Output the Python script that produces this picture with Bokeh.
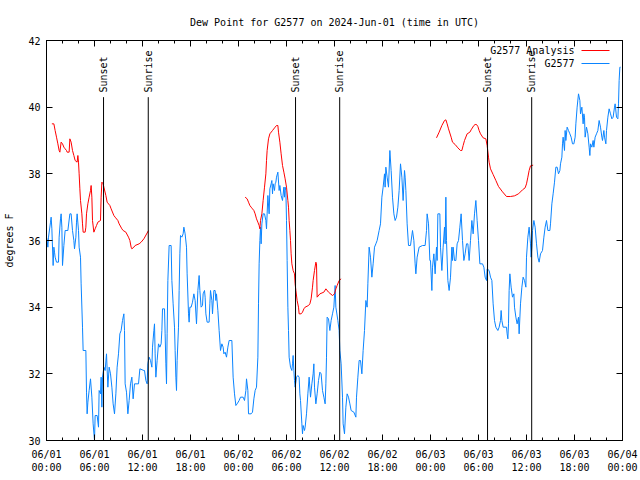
import math
from bokeh.plotting import figure
from bokeh.models import LinearAxis, FixedTicker, Label, Arrow, ColumnDataSource, Range1d
from bokeh.core.properties import value
from bokeh.embed import file_html
from bokeh.resources import INLINE

FONT = "DejaVu Sans Mono"

chart_title = "Dew Point for G2577 on 2024-Jun-01 (time in UTC)"
y_label = "degrees F"
x_tick_hours = [0, 6, 12, 18, 24, 30, 36, 42, 48, 54, 60, 66, 72]
x_tick_labels = ["06/01\n00:00", "06/01\n06:00", "06/01\n12:00", "06/01\n18:00",
                 "06/02\n00:00", "06/02\n06:00", "06/02\n12:00", "06/02\n18:00",
                 "06/03\n00:00", "06/03\n06:00", "06/03\n12:00", "06/03\n18:00",
                 "06/04\n00:00"]
x_minor_hours = [h for h in range(0, 73, 2)]
y_ticks = [30, 32, 34, 36, 38, 40, 42]

sun_hours = [7.13, 12.72, 31.13, 36.65, 55.13, 60.65]
sun_labels = ["Sunset", "Sunrise", "Sunset", "Sunrise", "Sunset", "Sunrise"]

# observed series G2577 (hours since 2024-06-01 00:00 UTC, dew point F)
obs_hours = [
    0.0, 0.08, 0.17, 0.25, 0.5, 0.58, 0.67, 0.83, 0.92, 1.0, 1.08, 1.25, 1.5, 1.58, 1.75, 1.83, 1.92,
    2.0, 2.17, 2.33, 2.67, 2.92, 3.08, 3.25, 3.42, 3.5, 3.67, 3.75, 3.83, 4.0, 4.08, 4.25, 4.33, 4.5,
    4.58, 4.92, 5.0, 5.08, 5.17, 5.33, 5.5, 5.67, 5.83, 6.0, 6.08, 6.33, 6.5, 6.58, 6.75, 6.83, 6.92,
    7.0, 7.17, 7.33, 7.5, 7.67, 7.83, 8.0, 8.17, 8.33, 8.5, 8.67, 8.83, 9.0, 9.17, 9.33, 9.5, 9.67,
    9.75, 9.83, 10.0, 10.17, 10.33, 10.5, 10.67, 10.83, 11.0, 11.5, 11.67, 12.17, 12.25, 12.42, 12.58,
    12.67, 12.83, 13.0, 13.17, 13.25, 13.42, 13.5, 13.58, 13.67, 13.83, 14.0, 14.17, 14.33, 14.42,
    14.5, 14.75, 14.83, 14.92, 15.0, 15.08, 15.17, 15.33, 15.58, 15.67, 15.83, 16.0, 16.08, 16.17,
    16.25, 16.33, 16.5, 16.58, 16.67, 16.75, 16.92, 17.08, 17.17, 17.33, 17.5, 17.58, 17.75, 17.83,
    17.92, 18.08, 18.25, 18.42, 18.58, 18.75, 18.92, 19.08, 19.17, 19.33, 19.5, 19.58, 19.75, 19.83,
    19.92, 20.08, 20.33, 20.42, 20.5, 20.67, 20.75, 20.92, 21.08, 21.17, 21.25, 21.42, 21.58, 21.75,
    21.92, 22.08, 22.17, 22.33, 22.5, 22.67, 22.83, 23.17, 23.33, 23.5, 23.67, 23.83, 24.08, 24.25,
    24.58, 24.75, 24.92, 25.0, 25.17, 25.25, 25.58, 25.75, 25.92, 26.08, 26.25, 26.42, 26.5, 26.58,
    26.67, 26.75, 26.83, 26.92, 27.08, 27.25, 27.42, 27.5, 27.58, 27.67, 27.83, 27.92, 28.08, 28.17,
    28.25, 28.33, 28.5, 28.58, 28.67, 28.75, 28.92, 29.08, 29.17, 29.33, 29.5, 29.67, 29.75, 29.83,
    29.92, 30.0, 30.08, 30.17, 30.25, 30.33, 30.5, 30.67, 30.75, 30.83, 30.92, 31.0, 31.08, 31.25,
    31.42, 31.58, 31.67, 31.75, 31.92, 32.0, 32.08, 32.25, 32.33, 32.5, 32.67, 32.83, 33.0, 33.17,
    33.33, 33.42, 33.5, 33.67, 33.83, 34.0, 34.17, 34.33, 34.5, 34.67, 34.83, 34.92, 35.0, 35.08,
    35.25, 35.42, 35.58, 35.75, 35.92, 36.08, 36.17, 36.42, 36.58, 36.67, 36.83, 37.0, 37.08, 37.25,
    37.42, 37.58, 37.75, 37.92, 38.08, 38.42, 38.67, 38.75, 38.92, 39.08, 39.25, 39.42, 39.58, 39.75,
    39.92, 40.08, 40.17, 40.33, 40.5, 40.67, 40.83, 41.0, 41.17, 41.33, 41.58, 41.75, 41.92, 42.08,
    42.25, 42.33, 42.42, 42.58, 42.75, 42.92, 43.08, 43.25, 43.42, 43.58, 43.75, 43.92, 44.08, 44.25,
    44.42, 44.58, 44.75, 44.83, 44.92, 45.08, 45.25, 45.5, 45.75, 45.92, 46.08, 46.17, 46.33, 46.58,
    47.0, 47.33, 47.5, 47.58, 47.75, 47.92, 48.0, 48.17, 48.25, 48.42, 48.58, 48.75, 48.83, 48.92,
    49.17, 49.25, 49.42, 49.58, 49.75, 49.83, 49.92, 50.0, 50.17, 50.33, 50.5, 50.67, 50.75, 50.83,
    51.0, 51.17, 51.33, 51.5, 51.67, 51.83, 52.0, 52.17, 52.33, 52.5, 52.67, 52.83, 53.0, 53.17,
    53.33, 53.5, 53.67, 53.83, 54.0, 54.17, 54.5, 54.67, 54.83, 55.0, 55.08, 55.33, 55.5, 55.67,
    55.83, 56.0, 56.17, 56.42, 56.58, 56.75, 56.83, 56.92, 57.08, 57.5, 57.58, 57.67, 57.75, 57.83,
    57.92, 58.08, 58.25, 58.42, 58.5, 58.67, 58.83, 59.0, 59.08, 59.25, 59.42, 59.58, 59.75, 59.92,
    60.0, 60.17, 60.33, 60.5, 60.58, 60.67, 60.75, 60.92, 61.08, 61.25, 61.42, 61.58, 61.75, 62.0,
    62.17, 62.33, 62.5, 62.67, 62.92, 63.0, 63.17, 63.33, 63.5, 63.67, 63.83, 64.0, 64.17, 64.25,
    64.42, 64.5, 64.58, 64.75, 64.83, 64.92, 65.08, 65.25, 65.42, 65.58, 65.75, 65.92, 66.08, 66.17,
    66.33, 66.5, 66.67, 66.75, 66.92, 67.08, 67.17, 67.25, 67.33, 67.5, 67.67, 67.83, 67.92, 68.0,
    68.17, 68.33, 68.42, 68.58, 68.75, 68.92, 69.08, 69.25, 69.42, 69.5, 69.67, 69.75, 69.92, 70.0,
    70.17, 70.33, 70.5, 70.67, 70.83, 71.0, 71.08, 71.25, 71.42, 71.5, 71.58, 71.67, 71.75,
]
obs_dewpt = [
    36.1, 36.0, 35.8, 36.1, 36.55, 36.7, 36.35, 35.25, 35.8, 35.65, 35.5, 35.35, 35.35, 36.1, 36.65, 36.8, 36.4,
    35.25, 35.85, 36.3, 36.3, 36.8, 36.8, 36.3, 36.0, 35.75, 36.1, 36.55, 36.8, 36.3, 35.8, 35.5, 34.7, 33.4,
    32.7, 32.7, 31.45, 30.8, 31.15, 31.5, 31.85, 31.3, 30.5, 30.0, 30.75, 30.75, 30.4, 31.5, 31.4, 31.9, 31.0,
    31.9, 32.2, 32.1, 32.6, 31.6, 32.2, 32.0, 31.6, 31.1, 30.8, 31.4, 32.2, 32.6, 33.2, 33.3, 33.6, 33.8,
    33.3, 31.7, 31.45, 30.8, 31.2, 31.7, 31.9, 31.25, 31.7, 31.7, 32.15, 32.1, 32.1, 31.8, 31.7,
    32.3, 32.5, 32.4, 32.2, 32.8, 33.3, 33.5, 32.6, 31.9, 32.4, 32.9, 32.8, 32.9, 33.3,
    33.95, 33.95, 33.2, 32.3, 31.7, 33.2, 34.8, 35.85, 35.85, 34.8, 34.1, 33.4, 32.7, 31.9,
    31.5, 32.4, 33.4, 34.5, 35.6, 36.15, 36.1, 36.2, 36.4, 36.2, 35.8, 35.0, 33.8, 33.55,
    34.0, 34.0, 34.15, 34.4, 34.2, 33.5, 34.5, 34.95, 34.5, 34.0, 34.05, 34.4, 34.5, 34.3,
    33.8, 33.55, 33.55, 34.1, 34.5, 34.2, 33.8, 34.5, 34.5, 34.2, 34.4, 33.9, 33.3, 32.7,
    32.9, 32.8, 32.6, 32.65, 32.5, 32.8, 33.0, 33.0, 31.9, 31.4, 31.05, 31.1, 31.2, 31.3,
    31.3, 31.2, 31.5, 31.85, 31.5, 30.8, 30.8, 30.85, 31.25, 31.5, 31.6, 32.5, 34.1, 35.3,
    36.0, 36.4, 35.9, 36.5, 36.8, 36.8, 36.6, 36.35, 36.8, 37.35, 36.8, 37.55, 37.7, 37.8,
    37.4, 37.7, 37.5, 37.7, 37.75, 37.9, 38.05, 37.5, 37.65, 37.35, 37.2, 37.6, 37.3, 37.6,
    37.5, 36.6, 35.4, 34.0, 33.3, 32.5, 32.2, 32.1, 32.3, 32.55, 32.1, 31.8, 31.6, 31.9,
    31.95, 31.9, 31.4, 31.2, 30.5, 30.2, 30.45, 30.3, 30.4, 30.8, 31.4, 31.9, 31.3, 31.7,
    32.0, 32.3, 31.6, 31.1, 31.4, 31.8, 32.05, 32.0, 31.5, 31.3, 31.1, 31.7, 32.5, 33.7,
    33.65, 33.3, 33.6, 33.8, 34.0, 34.65, 34.0, 33.6, 33.3, 32.7, 32.3, 31.3, 30.5, 30.2,
    31.0, 31.4, 31.3, 31.1, 30.9, 30.85, 30.7, 31.3, 31.9, 32.4, 32.4, 32.0, 32.7, 33.3,
    34.2, 34.0, 34.7, 35.8, 35.5, 34.9, 35.3, 35.8, 35.9, 36.0, 36.3, 36.5, 37.3, 37.6,
    38.0, 37.6, 38.2, 37.9, 37.6, 38.7, 38.1, 37.3, 36.8, 36.6, 36.7, 37.0, 37.5, 38.3,
    37.9, 37.2, 38.1, 37.9, 37.5, 36.5, 35.85, 35.85, 36.3, 36.0, 35.3, 35.0, 35.5, 35.8,
    35.85, 35.85, 36.3, 36.8, 36.5, 35.4, 35.4, 34.5, 35.2, 35.6, 35.0, 35.8, 35.4, 36.8,
    36.8, 35.8, 35.1, 35.8, 36.4, 35.9, 37.3, 36.0, 34.8, 34.5, 34.9, 35.8, 35.4, 35.8,
    35.4, 35.4, 35.9, 36.0, 36.4, 36.8, 36.0, 35.4, 35.6, 35.9, 35.9, 35.4, 36.0, 36.6,
    36.2, 36.8, 37.2, 36.6, 36.0, 35.3, 35.3, 35.2, 34.9, 34.8, 35.15, 35.1, 34.9, 34.8,
    34.1, 33.6, 33.4, 33.3, 33.4, 33.6, 33.9, 33.6, 33.4, 33.4, 33.2, 33.05, 33.5, 34.5,
    35.0, 34.6, 34.3, 34.4, 34.0, 33.7, 33.5, 33.7, 33.2, 34.1, 34.6, 34.9, 34.8, 34.6,
    35.5, 36.1, 36.4, 35.9, 35.5, 35.8, 36.3, 36.6, 36.4, 35.9, 35.5, 35.35, 35.6, 35.7,
    36.1, 36.4, 36.6, 36.3, 36.3, 36.5, 37.1, 37.4, 37.75, 38.2, 38.2, 38.0, 38.1, 38.3,
    38.5, 38.9, 39.1, 38.7, 39.3, 39.0, 39.4, 39.3, 39.2, 39.1, 38.9, 38.9, 39.1, 39.5,
    40.0, 40.4, 40.2, 39.8, 40.0, 39.5, 39.8, 39.7, 39.1, 39.4, 39.2, 38.8, 38.55, 38.9,
    38.8, 39.0, 38.8, 39.1, 39.2, 39.3, 39.6, 39.4, 39.1, 39.0, 39.3, 39.1, 38.9, 39.3,
    39.7, 39.95, 39.8, 39.65, 39.7, 40.0, 40.1, 39.7, 39.65, 40.1, 40.8, 41.2, 41.2,
]

# analysis series "G2577 Analysis" (three separate runs)
ana1_hours = [0.67, 0.92, 1.08, 1.25, 1.42, 1.58, 1.67, 1.83, 2.0, 2.17, 2.33, 2.5, 2.58, 2.83, 2.92,
              3.08, 3.25, 3.42, 3.58, 3.83, 3.92, 4.0, 4.08, 4.17, 4.25, 4.42, 4.5, 4.58, 4.83, 4.92,
              5.0, 5.17, 5.33, 5.5, 5.58, 5.67, 5.75, 5.92, 6.08, 6.25, 6.42, 6.75, 6.83, 6.92, 7.08,
              7.17, 7.42, 7.58, 7.92, 8.08, 8.42, 8.58, 8.92, 9.08, 9.42, 9.58, 9.92, 10.25, 10.42,
              10.58, 10.67, 10.92, 11.08, 11.58, 11.83, 12.17, 12.75]
ana1_dewpt = [39.5, 39.5, 39.3, 39.1, 38.9, 38.7, 38.65, 38.95, 38.9, 38.8, 38.75, 38.7, 38.65, 38.65, 39.05,
              38.95, 38.7, 38.55, 38.4, 38.35, 38.55, 38.35, 38.0, 37.55, 37.2, 36.8, 36.5, 36.25, 36.25, 36.4,
              36.8, 37.1, 37.3, 37.5, 37.65, 37.3, 36.6, 36.25, 36.35, 36.45, 36.55, 36.6, 37.3, 37.75, 37.7,
              37.6, 37.35, 37.15, 37.05, 36.95, 36.75, 36.7, 36.6, 36.5, 36.35, 36.3, 36.25, 36.1, 36.0,
              35.8, 35.75, 35.8, 35.85, 35.9, 35.95, 36.05, 36.3]
ana2_hours = [24.83, 25.08, 25.25, 25.42, 25.58, 25.75, 25.92, 26.08, 26.25, 26.42, 26.58, 26.67, 26.75,
              26.92, 27.08, 27.25, 27.42, 27.5, 27.58, 27.75, 27.92, 28.25, 28.58, 28.75, 28.92, 29.0,
              29.17, 29.33, 29.5, 29.67, 29.83, 30.0, 30.17, 30.25, 30.33, 30.42, 30.5, 30.58, 30.67,
              30.83, 31.0, 31.08, 31.17, 31.33, 31.5, 31.58, 31.83, 32.0, 32.17, 32.33, 32.75, 32.92,
              33.08, 33.25, 33.33, 33.5, 33.67, 33.75, 33.83, 34.17, 34.67, 34.92, 35.25, 35.75, 36.0,
              36.17, 36.33, 36.58, 36.83]
ana2_dewpt = [37.3, 37.25, 37.15, 37.05, 37.0, 36.95, 36.9, 36.8, 36.65, 36.55, 36.45, 36.35, 36.6,
              36.8, 37.2, 37.6, 38.0, 38.4, 38.7, 39.05, 39.2, 39.3, 39.4, 39.45, 39.45, 39.25,
              38.95, 38.6, 38.25, 38.05, 37.85, 37.6, 37.2, 37.0, 36.6, 36.3, 36.0, 35.6, 35.3,
              35.1, 35.0, 34.7, 34.5, 34.2, 34.0, 33.8, 33.8, 33.85, 33.95, 34.0, 34.05, 34.1,
              34.25, 34.6, 34.8, 35.1, 35.35, 35.3, 34.3, 34.4, 34.45, 34.55, 34.45, 34.35, 34.4,
              34.55, 34.65, 34.8, 34.85]
ana3_hours = [48.75, 49.08, 49.42, 49.75, 49.92, 50.08, 50.25, 50.58, 50.75, 51.08, 51.42, 51.75, 51.92,
              52.08, 52.25, 52.58, 52.92, 53.08, 53.42, 53.58, 53.75, 53.92, 54.08, 54.25, 54.58, 54.92,
              55.08, 55.25, 55.33, 55.5, 55.83, 56.17, 56.5, 57.0, 57.5, 58.0, 58.5, 59.0, 59.5, 59.83,
              60.0, 60.17, 60.33, 60.5, 60.83]
ana3_dewpt = [39.08, 39.25, 39.45, 39.6, 39.62, 39.5, 39.35, 39.1, 38.95, 38.88, 38.78, 38.7, 38.7,
              38.85, 39.0, 39.2, 39.25, 39.32, 39.45, 39.48, 39.48, 39.42, 39.3, 39.2, 39.08, 39.05,
              38.85, 38.5, 38.35, 38.15, 37.98, 37.8, 37.62, 37.46, 37.32, 37.32, 37.34, 37.4, 37.52, 37.58,
              37.7, 37.9, 38.1, 38.24, 38.26]

BLUE = "#0a84ff"
RED = "#ff0000"

p = figure(width=640, height=480, output_backend="svg", toolbar_location=None,
           x_range=Range1d(0, 72), y_range=Range1d(30, 42),
           x_axis_type=None, y_axis_type=None,
           min_border_left=46, min_border_right=18, min_border_top=40, min_border_bottom=40,
           title=chart_title)
p.title.text_font = FONT
p.title.text_font_size = "10px"
p.title.text_font_style = "normal"
p.title.text_color = "black"
p.title.align = "center"
p.title.standoff = 25
p.grid.visible = False
p.outline_line_color = "black"
p.outline_line_alpha = 1.0
p.outline_line_width = 1
p.background_fill_color = "white"
p.border_fill_color = "white"

xt = FixedTicker(ticks=x_tick_hours, minor_ticks=x_minor_hours)
yt = FixedTicker(ticks=y_ticks, minor_ticks=[])


def style_axis(ax, show_labels):
    ax.axis_line_color = "black"
    ax.major_tick_line_color = "black"
    ax.minor_tick_line_color = "black"
    ax.major_tick_in = 6
    ax.major_tick_out = 0
    ax.minor_tick_in = 3
    ax.minor_tick_out = 0
    ax.major_label_text_font = FONT
    ax.major_label_text_font_size = "10px"
    if show_labels:
        ax.major_label_text_color = "black"
    else:
        ax.major_label_text_color = None
        ax.major_label_standoff = 0


bottom = LinearAxis(ticker=xt, major_label_overrides={h: s for h, s in zip(x_tick_hours, x_tick_labels)})
style_axis(bottom, True)
bottom.major_label_standoff = 8
bottom.major_label_text_line_height = 1.2
top = LinearAxis(ticker=xt)
style_axis(top, False)
left = LinearAxis(ticker=yt, axis_label=y_label)
style_axis(left, True)
left.major_label_standoff = 6
left.axis_label_text_font = FONT
left.axis_label_text_font_size = "10px"
left.axis_label_text_font_style = "normal"
left.axis_label_text_color = "black"
left.axis_label_standoff = 10
right = LinearAxis(ticker=yt)
style_axis(right, False)
p.add_layout(bottom, "below")
p.add_layout(top, "above")
p.add_layout(left, "left")
p.add_layout(right, "right")

# series
p.line(obs_hours, obs_dewpt, line_color=BLUE, line_width=1)
for hh, vv in ((ana1_hours, ana1_dewpt), (ana2_hours, ana2_dewpt), (ana3_hours, ana3_dewpt)):
    p.line(hh, vv, line_color=RED, line_width=1)

# sunrise / sunset markers
line_top = 40.3
p.segment(x0=sun_hours, y0=[30] * len(sun_hours), x1=sun_hours, y1=[line_top] * len(sun_hours),
          line_color="black", line_width=1)
sun_src = ColumnDataSource(dict(x=sun_hours, y=[40.44] * len(sun_hours), t=sun_labels))
p.text(x="x", y="y", text="t", source=sun_src, angle=math.pi / 2, text_align="left",
       text_baseline="middle", text_font=value(FONT), text_font_size=value("10px"), text_color="black")

# legend (text then line sample, top right)
legend_rows = [("G2577 Analysis", RED), ("G2577", BLUE)]
for i, (name, col) in enumerate(legend_rows):
    ypix = 390 - 13 * i
    p.add_layout(Label(x=528, y=ypix, x_units="screen", y_units="screen", text=name,
                       text_align="right", text_baseline="middle", text_font=FONT,
                       text_font_size="10px", text_color="black"))
    p.add_layout(Arrow(end=None, x_start=535, y_start=ypix, x_end=563, y_end=ypix,
                       start_units="screen", end_units="screen", line_color=col, line_width=1))

open("out.html", "w").write(file_html(p, INLINE))
